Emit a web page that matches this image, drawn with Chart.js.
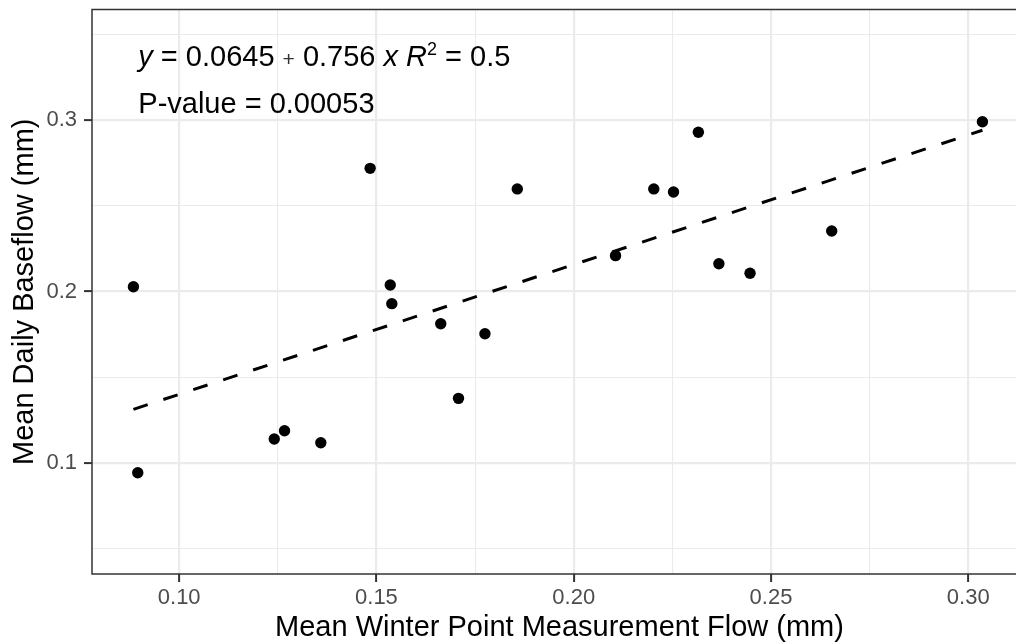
<!DOCTYPE html>
<html><head><meta charset="utf-8">
<script src="https://cdn.jsdelivr.net/npm/chart.js@4.4.1/dist/chart.umd.min.js"></script>
<style>html,body{margin:0;padding:0;overflow:hidden;background:#fff;width:1016px;height:643px}canvas{display:block}</style>
</head><body>
<canvas id="c" width="1040" height="643" style="width:1040px;height:643px"></canvas>
<script>
// Data
const winterFlow = [0.0884, 0.0895, 0.1241, 0.1267, 0.1359, 0.1535, 0.1539, 0.1484, 0.1663, 0.1775,
                    0.1708, 0.1857, 0.2106, 0.2203, 0.2253, 0.2316, 0.2368, 0.2447, 0.2654, 0.3036];
const baseflow   = [0.2028, 0.0943, 0.1140, 0.1188, 0.1118, 0.2038, 0.1929, 0.2718, 0.1812, 0.1754,
                    0.1377, 0.2598, 0.2209, 0.2598, 0.2580, 0.2928, 0.2162, 0.2106, 0.2353, 0.2990];
const fitX = [0.0884, 0.3036];
const fitY = [0.1313, 0.2940];
const xGridValues = [0.10, 0.125, 0.15, 0.175, 0.20, 0.225, 0.25, 0.275, 0.30];
const xTickLabels = [0.10, 0.15, 0.20, 0.25, 0.30];
const yGridValues = [0.05, 0.10, 0.15, 0.20, 0.25, 0.30, 0.35];
const yTickLabels = [0.1, 0.2, 0.3];
const xRange = [0.0779, 0.3149];
const yRange = [0.0353, 0.3644];

const FONT = "'Liberation Sans', Arial, sans-serif";
Chart.defaults.font.family = FONT;
const isIn = (v, arr) => arr.some(m => Math.abs(m - v) < 1e-9);

const annotation = {
  id: 'annotation',
  afterDatasetsDraw(chart) {
    const ctx = chart.ctx, a = chart.chartArea;
    ctx.save();
    ctx.textBaseline = 'alphabetic';
    ctx.textAlign = 'left';
    const base = 65.5;
    let x = a.left + 46.3;
    const parts = [
      {t: 'y', f: 'italic 29px ' + FONT},
      {t: ' = 0.0645 ', f: '29px ' + FONT},
      {t: '+', f: '21px ' + FONT, c: '#333'},
      {t: ' 0.756 ', f: '29px ' + FONT},
      {t: 'x', f: 'italic 29px ' + FONT},
      {t: ' ', f: '29px ' + FONT},
      {t: 'R', f: 'italic 29px ' + FONT},
      {t: '2', f: '18px ' + FONT, dy: -10.5},
      {t: ' = 0.5', f: '29px ' + FONT}
    ];
    parts.forEach(p => {
      ctx.font = p.f;
      ctx.fillStyle = p.c || '#000';
      ctx.fillText(p.t, x, base + (p.dy || 0));
      x += ctx.measureText(p.t).width;
    });
    ctx.font = '29px ' + FONT;
    ctx.fillStyle = '#000';
    ctx.fillText('P-value = 0.00053', a.left + 46.3, 113.3);
    ctx.restore();
  },
  afterDraw(chart) {
    const ctx = chart.ctx, a = chart.chartArea;
    ctx.save();
    ctx.strokeStyle = '#333333';
    ctx.lineWidth = 1.5;
    ctx.strokeRect(a.left, a.top, a.right - a.left, a.bottom - a.top);
    ctx.restore();
  }
};

new Chart(document.getElementById('c'), {
  type: 'scatter',
  data: {
    datasets: [
      {
        type: 'line',
        data: fitX.map((v, i) => ({x: v, y: fitY[i]})),
        borderColor: '#000',
        borderWidth: 3,
        borderDash: [15, 16.5],
        borderCapStyle: 'butt',
        pointRadius: 0,
        fill: false,
        order: 0
      },
      {
        data: winterFlow.map((v, i) => ({x: v, y: baseflow[i]})),
        backgroundColor: '#000',
        borderWidth: 0,
        pointRadius: 5.7,
        order: 1
      }
    ]
  },
  options: {
    responsive: false,
    animation: false,
    devicePixelRatio: 1,
    layout: {padding: {top: 9.5, right: 13, left: 0, bottom: 0}},
    plugins: {legend: {display: false}, tooltip: {enabled: false}},
    scales: {
      x: {
        type: 'linear',
        min: xRange[0], max: xRange[1],
        afterBuildTicks: s => { s.ticks = xGridValues.map(v => ({value: v})); },
        afterFit: s => { s.height = 69; s.paddingLeft = 0; s.paddingRight = 0; },
        ticks: {
          autoSkip: false, maxRotation: 0, minRotation: 0, padding: 3,
          color: '#4d4d4d', font: {size: 22},
          callback: v => isIn(v, xTickLabels) ? v.toFixed(2) : ''
        },
        grid: {
          color: '#ebebeb',
          lineWidth: c => (c.tick && isIn(c.tick.value, xTickLabels)) ? 2.2 : 1.1,
          drawTicks: true, tickLength: 8, tickWidth: 2,
          tickColor: c => (c.tick && isIn(c.tick.value, xTickLabels)) ? '#333333' : 'rgba(0,0,0,0)'
        },
        border: {display: false},
        title: {
          display: true, text: 'Mean Winter Point Measurement Flow (mm)', color: '#000',
          font: {size: 29, lineHeight: 1}, padding: {top: 0, bottom: 0.5}
        }
      },
      y: {
        type: 'linear',
        min: yRange[0], max: yRange[1],
        afterBuildTicks: s => { s.ticks = yGridValues.map(v => ({value: v})); },
        afterFit: s => { s.width = 92; s.paddingTop = 0; s.paddingBottom = 0; },
        ticks: {
          autoSkip: false, padding: 7,
          color: '#4d4d4d', font: {size: 22},
          callback: v => isIn(v, yTickLabels) ? v.toFixed(1) : ''
        },
        grid: {
          color: '#ebebeb',
          lineWidth: c => (c.tick && isIn(c.tick.value, yTickLabels)) ? 2.2 : 1.1,
          drawTicks: true, tickLength: 8, tickWidth: 2,
          tickColor: c => (c.tick && isIn(c.tick.value, yTickLabels)) ? '#333333' : 'rgba(0,0,0,0)'
        },
        border: {display: false},
        title: {
          display: true, text: 'Mean Daily Baseflow (mm)', color: '#000',
          font: {size: 29, lineHeight: 1}, padding: {top: 10.5, bottom: 0}
        }
      }
    }
  },
  plugins: [annotation]
});
</script>
</body></html>
